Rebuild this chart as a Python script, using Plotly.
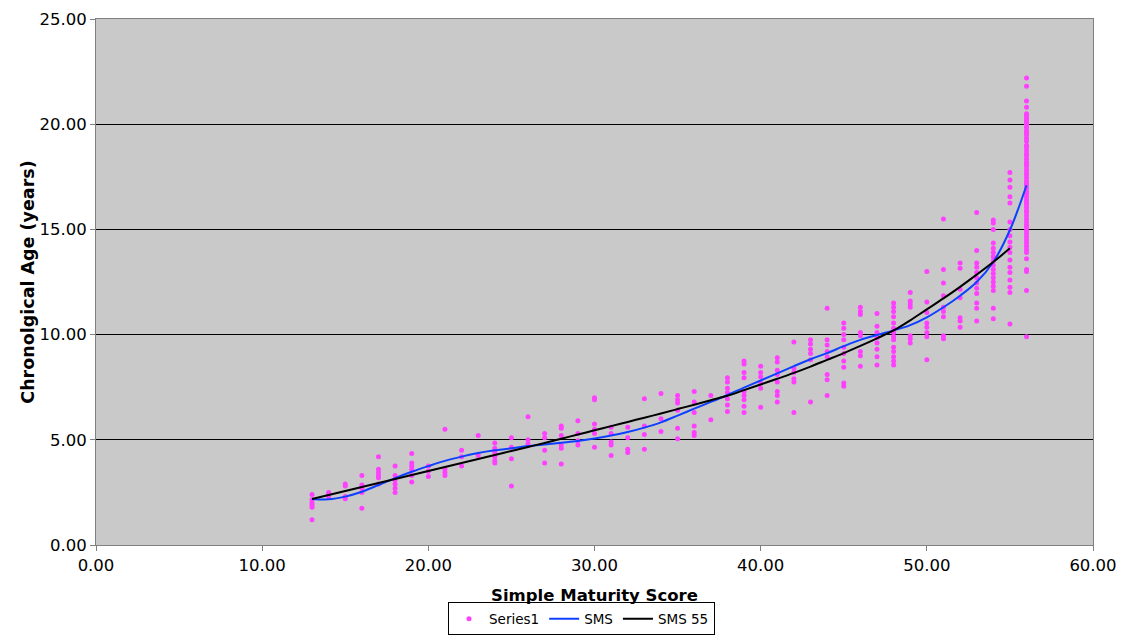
import plotly.graph_objects as go

# ---- data ----
sms_scores = [13, 14, 15, 16, 17, 18, 19, 20, 21, 22, 23, 24, 25, 26, 27, 28, 29, 30,
              31, 32, 33, 34, 35, 36, 37, 38, 39, 40, 41, 42, 43, 44, 45, 46, 47, 48,
              49, 50, 51, 52, 53, 54, 55, 56]

ages_by_score = [
    [2.4, 2.15, 2.0, 1.9, 1.8, 1.2],                      # 13
    [2.5, 2.4, 2.3],                                       # 14
    [2.9, 2.8, 2.3, 2.2],                                  # 15
    [3.3, 2.85, 2.7, 2.5, 1.75],                           # 16
    [4.2, 3.6, 3.45, 3.3, 3.2, 2.9],                       # 17
    [3.75, 3.3, 3.1, 2.9, 2.7, 2.5],                       # 18
    [4.35, 3.9, 3.75, 3.6, 3.3, 3.0],                      # 19
    [3.75, 3.5, 3.25],                                     # 20
    [5.5, 3.6, 3.45, 3.3],                                 # 21
    [4.5, 4.2, 3.75],                                      # 22
    [5.2, 4.25],                                           # 23
    [4.85, 4.6, 4.4, 4.2, 4.0, 3.9],                       # 24
    [5.1, 4.65, 4.1, 2.8],                                 # 25
    [6.1, 5.0, 4.8],                                       # 26
    [5.3, 5.1, 4.5, 3.9],                                  # 27
    [5.65, 5.55, 5.2, 4.75, 4.6, 3.85],                    # 28
    [5.9, 5.3, 4.95, 4.75],                                # 29
    [7.0, 6.9, 5.75, 5.5, 5.3, 4.65],                      # 30
    [5.6, 5.3, 4.9, 4.75, 4.25],                           # 31
    [5.6, 5.1, 4.55, 4.4],                                 # 32
    [6.95, 5.65, 5.25, 4.55],                              # 33
    [7.2, 6.0, 5.4],                                       # 34
    [7.1, 6.9, 6.75, 6.4, 5.55, 5.05],                     # 35
    [7.3, 6.8, 6.3, 5.65, 5.35, 5.2],                      # 36
    [7.1, 5.95],                                           # 37
    [7.95, 7.75, 7.45, 7.25, 6.95, 6.65, 6.35],            # 38
    [8.75, 8.6, 8.2, 7.95, 7.3, 7.1, 6.9, 6.6, 6.3],       # 39
    [8.5, 8.2, 8.0, 7.7, 7.45, 6.55],                      # 40
    [8.9, 8.7, 8.3, 8.1, 7.75, 7.3, 7.1, 6.8],             # 41
    [9.65, 8.4, 8.2, 7.9, 7.75, 6.3],                      # 42
    [9.75, 9.55, 9.3, 9.1, 8.8, 6.8],                      # 43
    [11.25, 9.75, 9.5, 9.2, 8.95, 8.1, 7.85, 7.1],         # 44
    [10.55, 10.3, 10.0, 9.75, 9.4, 9.1, 8.75, 8.45, 7.7, 7.55],  # 45
    [11.3, 11.1, 10.95, 10.1, 9.95, 9.2, 9.0, 8.5],        # 46
    [11.0, 10.4, 10.1, 9.85, 9.6, 9.3, 8.95, 8.55],        # 47
    [11.5, 11.3, 11.1, 10.85, 10.55, 10.3, 10.1, 9.9, 9.75, 9.4, 9.2,
     8.95, 8.75, 8.55],                                    # 48
    [12.0, 11.6, 11.45, 11.3, 9.95, 9.8, 9.6],             # 49
    [13.0, 11.55, 11.05, 10.55, 10.35, 10.1, 9.9, 8.8],    # 50
    [15.5, 13.1, 12.45, 11.85, 11.3, 11.1, 10.85, 9.95, 9.8],  # 51
    [13.4, 13.15, 12.15, 11.75, 10.8, 10.65, 10.35],       # 52
    [15.8, 14.0, 13.4, 13.2, 12.95, 12.7, 12.45, 12.2, 11.95, 11.5,
     11.25, 10.65],                                        # 53
    [15.45, 15.3, 15.0, 14.35, 14.1, 13.9, 13.7, 13.5, 13.3, 13.1, 12.9,
     12.7, 12.5, 12.3, 12.1, 11.25, 10.75],                # 54
    [17.7, 17.35, 17.0, 16.55, 16.25, 15.35, 15.0, 14.7, 14.4, 14.15, 13.9,
     13.55, 13.2, 12.95, 12.6, 12.25, 12.0, 10.5],         # 55
    [22.2, 21.8, 21.1, 20.8, 20.5, 20.4, 20.3, 20.2, 20.1, 20.0, 19.85,
     19.7, 19.6, 19.5, 19.35, 19.2, 19.0, 18.9, 18.75, 18.6, 18.5, 18.35,
     18.2, 18.1, 18.0, 17.85, 17.7, 17.6, 17.45, 17.3, 17.2, 17.1, 16.95,
     16.8, 16.7, 16.55, 16.4, 16.3, 16.2, 16.05, 15.9, 15.8, 15.65, 15.5,
     15.35, 15.2, 15.1, 14.95, 14.8, 14.65, 14.5, 14.35, 14.2, 14.05, 13.9,
     13.6, 13.1, 13.0, 12.1, 9.9],                         # 56
]

sms_fit_x = sms_scores
sms_fit_y = [2.19, 2.17, 2.3, 2.53, 2.85, 3.18, 3.48, 3.75, 4.0, 4.2, 4.37, 4.5,
             4.6, 4.7, 4.78, 4.86, 4.94, 5.06, 5.2, 5.37, 5.58, 5.83, 6.15, 6.48,
             6.8, 7.13, 7.48, 7.82, 8.16, 8.5, 8.83, 9.12, 9.45, 9.75, 9.98, 10.2,
             10.45, 10.82, 11.3, 11.85, 12.5, 13.45, 14.97, 17.1]

sms55_fit_x = [13, 14, 15, 16, 17, 18, 19, 20, 21, 22, 23, 24, 25, 26, 27, 28, 29,
               30, 31, 32, 33, 34, 35, 36, 37, 38, 39, 40, 41, 42, 43, 44, 45, 46,
               47, 48, 49, 50, 51, 52, 53, 54, 55]
sms55_fit_y = [2.19, 2.38, 2.57, 2.76, 2.95, 3.14, 3.33, 3.52, 3.71, 3.9, 4.09,
               4.28, 4.47, 4.66, 4.85, 5.05, 5.25, 5.45, 5.65, 5.85, 6.05, 6.25,
               6.46, 6.67, 6.88, 7.09, 7.36, 7.63, 7.9, 8.18, 8.48, 8.8, 9.12,
               9.46, 9.82, 10.2, 10.68, 11.2, 11.72, 12.27, 12.85, 13.45, 14.1]

x_ticks = [0, 10, 20, 30, 40, 50, 60]
y_ticks = [0, 5, 10, 15, 20, 25]

# ---- build ----
pts_x, pts_y = [], []
for s, ages in zip(sms_scores, ages_by_score):
    for a in ages:
        pts_x.append(s)
        pts_y.append(a)

FONT = "DejaVu Sans, Verdana, sans-serif"
FS = 16.5

fig = go.Figure()
fig.add_trace(go.Scatter(x=pts_x, y=pts_y, mode="markers", name="Series1",
                         marker=dict(color="#FF40FF", size=5, line=dict(width=0))))
fig.add_trace(go.Scatter(x=sms_fit_x, y=sms_fit_y, mode="lines", name="SMS",
                         line=dict(color="#1040FF", width=2, shape="spline")))
fig.add_trace(go.Scatter(x=sms55_fit_x, y=sms55_fit_y, mode="lines", name="SMS 55",
                         line=dict(color="#000000", width=2, shape="spline")))

# page body adds an 8px margin, so the figure is sized/positioned to compensate
fig.update_layout(
    width=1118, height=629,
    margin=dict(l=88, r=33, t=11, b=92, autoexpand=False),
    paper_bgcolor="white",
    plot_bgcolor="#C9C9C9",
    font=dict(family=FONT, size=FS, color="black"),
    showlegend=True,
    legend=dict(orientation="h", x=0.487, xanchor="center", y=-0.172, yanchor="bottom",
                bordercolor="black", borderwidth=1, bgcolor="white",
                font=dict(size=13.5), itemwidth=30, tracegroupgap=0),
)
fig.update_xaxes(
    range=[0, 60], tickvals=x_ticks, ticktext=[f"{v:.2f}" for v in x_ticks],
    showgrid=False, zeroline=False, showline=True, linecolor="#808080", linewidth=1,
    mirror=True, ticks="outside", ticklen=5, tickcolor="#808080",
    title=dict(text="<b>Simple Maturity Score</b>", font=dict(size=FS), standoff=15),
    tickfont=dict(size=FS),
)
fig.update_yaxes(
    range=[0, 25], tickvals=y_ticks, ticktext=[f"{v:.2f}" for v in y_ticks],
    showgrid=True, gridcolor="black", gridwidth=1, zeroline=False,
    showline=True, linecolor="#808080", linewidth=1, mirror=True,
    ticks="outside", ticklen=5, tickcolor="#808080",
    title=dict(text="<b>Chronolgical Age (years)</b>", font=dict(size=17.5), standoff=0),
    tickfont=dict(size=FS),
)

fig.write_html("out.html")
